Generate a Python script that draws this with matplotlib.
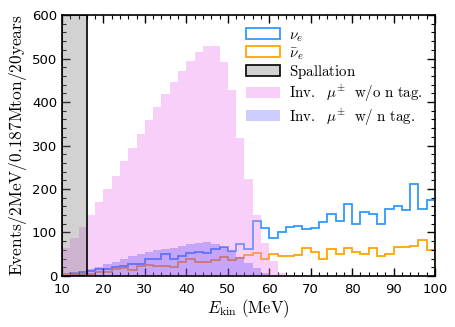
import numpy as np
import matplotlib
matplotlib.use("Agg")
import matplotlib.pyplot as plt
from matplotlib.ticker import MultipleLocator

plt.rcParams['mathtext.fontset'] = 'cm'

# 2 MeV bins from 10 to 100 MeV
edges = np.arange(10, 102, 2)
centers = 0.5 * (edges[:-1] + edges[1:])

nu_e = [5, 8, 9, 12, 15, 17, 21, 24, 27, 27, 39, 39, 50, 38, 46, 52, 56, 54, 62, 67,
        58, 73, 62, 126, 110, 88, 100, 112, 116, 107, 111, 123, 143, 126, 166, 119, 146, 142, 120, 155,
        162, 152, 212, 154, 175]
nu_e_bar = [2, 2, 4, 5, 9, 10, 15, 19, 14, 22, 25, 22, 24, 21, 33, 40, 33, 33, 36, 43,
            37, 41, 48, 54, 38, 50, 47, 47, 48, 64, 56, 39, 61, 51, 65, 55, 51, 65, 46, 50,
            66, 66, 68, 82, 60]
inv_mu_no_tag = [64, 88, 113, 140, 170, 200, 231, 264, 295, 327, 358, 389, 418, 446, 471, 494, 515, 529, 529, 492,
                 428, 317, 223, 140, 75, 34, 8, 3, 0, 0, 0, 0, 0, 0, 0, 0, 0, 0, 0, 0,
                 0, 0, 0, 0, 0]
inv_mu_tag = [3, 7, 11, 15, 20, 27, 33, 39, 45, 50, 56, 60, 62, 65, 70, 74, 76, 77, 74, 67,
              57, 44, 31, 18, 8, 0, 0, 0, 0, 0, 0, 0, 0, 0, 0, 0, 0, 0, 0, 0,
              0, 0, 0, 0, 0]
spallation_cut = 16

fig = plt.figure(figsize=(4.56, 3.27), dpi=100)
ax = fig.add_axes([0.136, 0.156, 0.818, 0.798])

ax.hist(centers, bins=edges, weights=nu_e, histtype='step', color='#3399ff', lw=1.3,
        label=r'$\nu_e$', zorder=1)
ax.hist(centers, bins=edges, weights=nu_e_bar, histtype='step', color='orange', lw=1.3,
        label=r'$\bar{\nu}_e$', zorder=1)
ax.axvspan(10, spallation_cut, facecolor=(0.5, 0.5, 0.5, 0.35), edgecolor='k', lw=1.2,
           label=r'$\mathrm{Spallation}$', zorder=3)
ax.hist(centers, bins=edges, weights=inv_mu_no_tag, color='violet', alpha=0.38,
        label=r'$\mathrm{Inv.}\ \ \mu^{\pm}\ \ \mathrm{w/o\ n\ tag.}$', zorder=2)
ax.hist(centers, bins=edges, weights=inv_mu_tag, color='blue', alpha=0.2,
        label=r'$\mathrm{Inv.}\ \ \mu^{\pm}\ \ \mathrm{w/\ n\ tag.}$', zorder=2)

ax.set_xlim(10, 100)
ax.set_ylim(0, 600)
ax.xaxis.set_major_locator(MultipleLocator(10))
ax.xaxis.set_minor_locator(MultipleLocator(2))
ax.yaxis.set_major_locator(MultipleLocator(100))
ax.yaxis.set_minor_locator(MultipleLocator(20))
ax.tick_params(which='both', direction='in', top=True, right=True, labelsize=9.5)
ax.tick_params(which='major', length=6, width=1)
ax.tick_params(which='minor', length=3, width=0.8)
ax.tick_params(axis='x', which='major', pad=5)
for s in ax.spines.values():
    s.set_linewidth(1.2)

ax.set_xlabel(r'$E_{\rm kin}\ \mathrm{(MeV)}$', fontsize=12, labelpad=1)
ax.set_ylabel(r'$\mathrm{Events/2MeV/0.187Mton/20years}$', fontsize=12.5, labelpad=2)

ax.legend(loc='upper right', frameon=False, fontsize=10.8, handlelength=2.3,
          handleheight=0.75, labelspacing=0.1, borderaxespad=0.4, handletextpad=0.6)

plt.savefig('out.png', dpi=100)
